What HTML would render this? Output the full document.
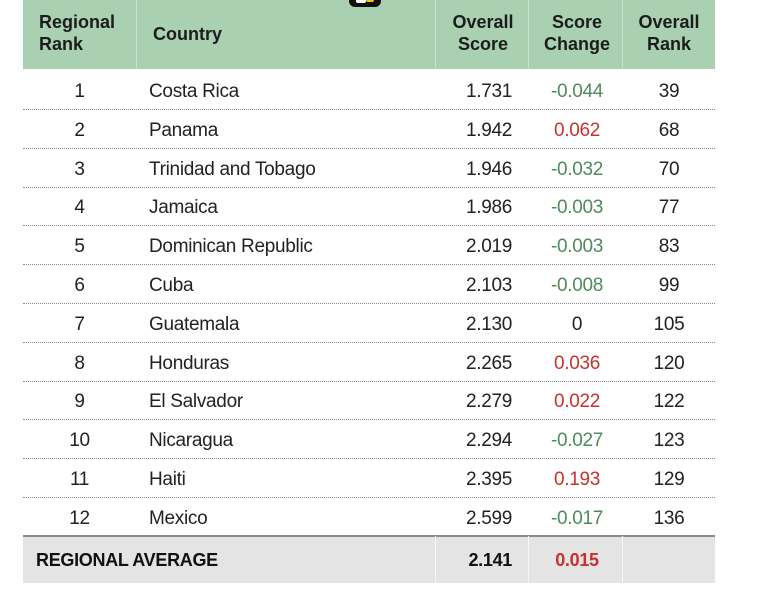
<!DOCTYPE html>
<html><head><style>
body{margin:0;width:758px;height:600px;background:#fff;position:relative;overflow:hidden;font-family:"Liberation Sans",Arial,sans-serif;color:#222}
.hdr{position:absolute;left:23px;top:0;width:692px;height:69px;background:#a8d0b1}
.vd{position:absolute;top:0;width:1px;height:69px;background:#c9e3cf}
.fv{position:absolute;top:536px;width:1px;height:47px;background:#f6f6f6}
.h{position:absolute;font-weight:bold;font-size:18px;line-height:22px;color:#1c1c1c;text-align:center}
.c{position:absolute;font-size:19px;line-height:22px;letter-spacing:-0.3px}
.sep{position:absolute;left:23px;width:692px;border-top:1px dotted #888;height:0}
.g{color:#4f8a5c}.r{color:#c8322c}
.foot{position:absolute;left:23px;top:535px;width:692px;height:48px;background:#e4e4e4;border-top:2px solid #8a8a8a;box-sizing:border-box}
</style></head><body>
<div class="hdr"></div>
<div class="vd" style="left:136px"></div>
<div class="vd" style="left:435px"></div>
<div class="vd" style="left:528px"></div>
<div class="vd" style="left:622px"></div>
<div style="position:absolute;left:349px;top:-8px;width:32px;height:15px;background:#111;border-radius:6px"></div>
<div style="position:absolute;left:356px;top:-2px;width:10px;height:5px;background:#fff;border-radius:2px"></div>
<div style="position:absolute;left:366px;top:-3px;width:8px;height:5px;background:#f0c419;border-radius:2px"></div>
<div class="h" style="left:27px;top:11px;width:80px;text-align:left;padding-left:12px">Regional<br>Rank</div>
<div class="h" style="left:153px;top:23px;text-align:left">Country</div>
<div class="h" style="left:440px;top:11px;width:86px">Overall<br>Score</div>
<div class="h" style="left:530px;top:11px;width:94px">Score<br>Change</div>
<div class="h" style="left:624px;top:11px;width:90px">Overall<br>Rank</div>
<div id="rows"></div>
<div class="foot"></div>
<div class="fv" style="left:435px"></div>
<div class="fv" style="left:528px"></div>
<div class="fv" style="left:622px"></div>
<div class="c" style="left:36px;top:549px;font-weight:bold;font-size:18px;color:#111">REGIONAL AVERAGE</div>
<div class="c" style="left:440px;top:549px;width:72px;text-align:right;font-weight:bold;font-size:18px;color:#111">2.141</div>
<div class="c r" style="left:530px;top:549px;width:94px;text-align:center;font-weight:bold;font-size:18px">0.015</div>
<script>
var d=[["Costa Rica","1.731","-0.044","39"],["Panama","1.942","0.062","68"],["Trinidad and Tobago","1.946","-0.032","70"],["Jamaica","1.986","-0.003","77"],["Dominican Republic","2.019","-0.003","83"],["Cuba","2.103","-0.008","99"],["Guatemala","2.130","0","105"],["Honduras","2.265","0.036","120"],["El Salvador","2.279","0.022","122"],["Nicaragua","2.294","-0.027","123"],["Haiti","2.395","0.193","129"],["Mexico","2.599","-0.017","136"]];
var h="";
d.forEach(function(r,i){var y=81+i*38.8;
var cl=r[2]=="0"?"":(r[2][0]=="-"?"g":"r");
h+='<div class="c" style="left:23px;top:'+y+'px;width:113px;text-align:center">'+(i+1)+'</div>';
h+='<div class="c" style="left:149px;top:'+y+'px">'+r[0]+'</div>';
h+='<div class="c" style="left:440px;top:'+y+'px;width:72px;text-align:right">'+r[1]+'</div>';
h+='<div class="c '+cl+'" style="left:530px;top:'+y+'px;width:94px;text-align:center">'+r[2]+'</div>';
h+='<div class="c" style="left:624px;top:'+y+'px;width:90px;text-align:center">'+r[3]+'</div>';
if(i<11)h+='<div class="sep" style="top:'+(109+i*38.8)+'px"></div>';
});
document.getElementById("rows").innerHTML=h;
</script>
</body></html>
